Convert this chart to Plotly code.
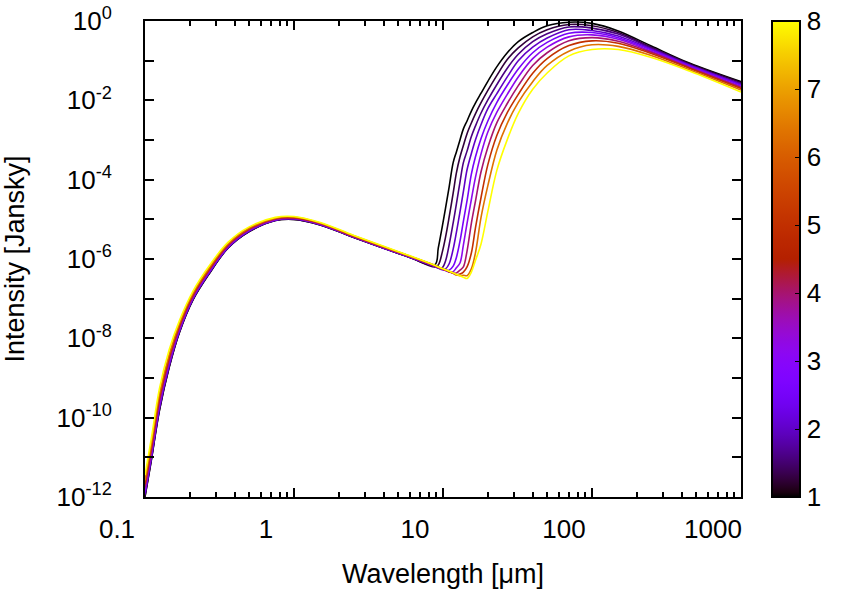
import math
import plotly.graph_objects as go

# wavelength grid [micron], shared by every curve
wavelength = [0.1, 0.11, 0.125, 0.145, 0.17, 0.21, 0.27, 0.36, 0.5, 0.75,
              1.0, 1.5, 2.5, 4.0, 6.0,
              8.8, 9.3, 9.9, 10.4, 11.0, 11.7, 12.3, 13.0, 13.7, 14.5,
              15.5, 16.5, 18, 20, 23, 27, 32, 40, 50, 70,
              100, 150, 250, 450, 1000]

# colour parameter of each model (colorbar value)
param = [1.0, 1.26, 1.59, 2.0, 2.52, 3.17, 4.0, 5.04, 6.35, 8.0]

# log10 of intensity [Jy]
log_i_1 = [-12.0, -11.10, -9.82, -8.75, -7.86, -7.03, -6.37, -5.73, -5.31, -5.03,
           -5.00, -5.14, -5.45, -5.73, -5.96,
           -6.15, -5.72, -5.17, -4.72, -4.18, -3.57, -3.30, -3.00, -2.72, -2.52,
           -2.27, -2.07, -1.82, -1.52, -1.15, -0.80, -0.52, -0.29, -0.12, -0.03,
           -0.06, -0.25, -0.63, -1.06, -1.53]
log_i_2 = [-11.98, -11.08, -9.80, -8.73, -7.85, -7.02, -6.36, -5.72, -5.31, -5.03,
           -5.00, -5.14, -5.45, -5.73, -5.96,
           -6.20, -6.15, -5.82, -5.45, -4.94, -4.34, -3.83, -3.43, -3.14, -2.84,
           -2.57, -2.34, -2.06, -1.75, -1.37, -0.97, -0.68, -0.40, -0.22, -0.09,
           -0.12, -0.29, -0.66, -1.08, -1.55]
log_i_3 = [-11.95, -11.05, -9.77, -8.71, -7.83, -7.01, -6.35, -5.72, -5.30, -5.02,
           -4.99, -5.13, -5.45, -5.73, -5.96,
           -6.19, -6.23, -6.22, -6.05, -5.64, -5.09, -4.61, -4.06, -3.57, -3.28,
           -2.91, -2.65, -2.32, -1.99, -1.60, -1.19, -0.84, -0.52, -0.32, -0.15,
           -0.18, -0.33, -0.68, -1.10, -1.58]
log_i_4 = [-11.92, -11.02, -9.74, -8.69, -7.82, -7.00, -6.34, -5.71, -5.29, -5.02,
           -4.99, -5.13, -5.44, -5.72, -5.95,
           -6.19, -6.23, -6.27, -6.25, -6.12, -5.75, -5.33, -4.81, -4.30, -3.75,
           -3.34, -3.00, -2.61, -2.21, -1.83, -1.41, -1.00, -0.66, -0.43, -0.22,
           -0.24, -0.38, -0.71, -1.11, -1.60]
log_i_5 = [-11.88, -10.98, -9.70, -8.65, -7.80, -6.98, -6.33, -5.70, -5.28, -5.01,
           -4.98, -5.13, -5.44, -5.72, -5.95,
           -6.18, -6.22, -6.26, -6.29, -6.28, -6.18, -5.96, -5.55, -5.05, -4.53,
           -3.86, -3.43, -2.96, -2.52, -2.05, -1.62, -1.21, -0.80, -0.54, -0.31,
           -0.29, -0.42, -0.73, -1.13, -1.62]
log_i_6 = [-11.83, -10.93, -9.65, -8.61, -7.77, -6.96, -6.31, -5.68, -5.27, -5.01,
           -4.98, -5.12, -5.43, -5.71, -5.95,
           -6.18, -6.22, -6.26, -6.29, -6.33, -6.32, -6.22, -6.10, -5.65, -5.10,
           -4.50, -3.95, -3.35, -2.80, -2.30, -1.85, -1.41, -0.95, -0.66, -0.40,
           -0.35, -0.46, -0.76, -1.15, -1.65]
log_i_7 = [-11.76, -10.86, -9.58, -8.56, -7.73, -6.94, -6.28, -5.67, -5.26, -5.00,
           -4.97, -5.11, -5.43, -5.71, -5.94,
           -6.17, -6.21, -6.25, -6.28, -6.32, -6.36, -6.35, -6.28, -6.20, -5.80,
           -5.10, -4.55, -3.80, -3.18, -2.56, -2.08, -1.63, -1.12, -0.80, -0.50,
           -0.42, -0.51, -0.79, -1.17, -1.67]
log_i_8 = [-11.68, -10.78, -9.50, -8.49, -7.69, -6.90, -6.26, -5.64, -5.24, -4.98,
           -4.96, -5.10, -5.42, -5.70, -5.93,
           -6.17, -6.21, -6.25, -6.28, -6.32, -6.36, -6.40, -6.38, -6.33, -6.20,
           -5.85, -5.22, -4.45, -3.62, -2.88, -2.31, -1.85, -1.32, -0.95, -0.62,
           -0.50, -0.56, -0.82, -1.19, -1.70]
log_i_9 = [-11.58, -10.68, -9.40, -8.41, -7.63, -6.86, -6.22, -5.62, -5.22, -4.97,
           -4.94, -5.09, -5.41, -5.69, -5.93,
           -6.16, -6.20, -6.24, -6.27, -6.31, -6.35, -6.39, -6.42, -6.41, -6.42,
           -6.25, -5.85, -4.95, -4.15, -3.25, -2.58, -2.05, -1.53, -1.12, -0.76,
           -0.60, -0.64, -0.87, -1.23, -1.74]
log_i_10 = [-11.45, -10.55, -9.27, -8.30, -7.56, -6.81, -6.17, -5.58, -5.19, -4.95,
            -4.93, -5.08, -5.40, -5.68, -5.92,
            -6.16, -6.20, -6.24, -6.27, -6.31, -6.35, -6.39, -6.42, -6.46, -6.49,
            -6.33, -6.04, -5.62, -4.80, -3.76, -2.99, -2.33, -1.72, -1.31, -0.88,
            -0.72, -0.72, -0.92, -1.26, -1.79]

curves = [log_i_1, log_i_2, log_i_3, log_i_4, log_i_5,
          log_i_6, log_i_7, log_i_8, log_i_9, log_i_10]

x_ticks = [0.1, 1, 10, 100, 1000]
x_labels = ["0.1", "1", "10", "100", "1000"]
y_label_exp = [0, 2, 4, 6, 8, 10, 12]
cb_ticks = [1, 2, 3, 4, 5, 6, 7, 8]

cb_min, cb_max = 1, 8


def gnuplot_color(v):
    # gnuplot default palette, rgbformulae 7,5,15
    g = (v - cb_min) / (cb_max - cb_min)
    r = math.sqrt(g)
    gr = g ** 3
    b = max(0.0, min(1.0, math.sin(2 * math.pi * g)))
    return "rgb(%d,%d,%d)" % (round(255 * r), round(255 * gr), round(255 * b))


colorscale = [[i / 100, gnuplot_color(cb_min + (cb_max - cb_min) * i / 100)]
              for i in range(101)]

fig = go.Figure()
for p, logi in zip(param, curves):
    fig.add_trace(go.Scatter(
        x=wavelength,
        y=[10 ** v for v in logi],
        mode="lines",
        line=dict(color=gnuplot_color(p), width=1.6, shape="spline", smoothing=1.0),
        showlegend=False,
    ))

# colorbar only
fig.add_trace(go.Scatter(
    x=[None], y=[None], mode="markers", showlegend=False, hoverinfo="skip",
    marker=dict(color=[cb_min], cmin=cb_min, cmax=cb_max, colorscale=colorscale,
                showscale=True,
                colorbar=dict(x=1.052, xanchor="left", y=0.5, yanchor="middle",
                              len=1, lenmode="fraction", thickness=28, xpad=0, ypad=0,
                              outlinewidth=2, outlinecolor="black",
                              tickvals=cb_ticks, tickprefix="\u00a0",
                              ticks="inside", ticklen=6, tickcolor="black",
                              ticklabeloverflow="allow",
                              tickfont=dict(size=26, color="black"))),
))

# empty trace so the minor-tick axis gets drawn
fig.add_trace(go.Scatter(x=[None], y=[None], xaxis="x2", showlegend=False,
                         hoverinfo="skip"))

# minor tick positions 2..9 of each decade
x_minor = [m * 10.0 ** d for d in range(-1, 3) for m in range(2, 10)]
y_minor = [10.0 ** -e for e in range(1, 12, 2)]

font = "Liberation Sans, Arial, Helvetica, sans-serif"
fig.update_layout(
    width=847, height=597,
    margin=dict(l=145, r=106, t=21, b=100, autoexpand=False),
    paper_bgcolor="white", plot_bgcolor="white",
    font=dict(family=font, size=26, color="black"),
    xaxis=dict(
        type="log", range=[-1, 3], automargin=False,
        showline=True, linecolor="black", linewidth=2, mirror="allticks",
        ticks="inside", ticklen=9, tickwidth=1.5, tickcolor="black",
        tickvals=x_ticks, ticktext=x_labels,
        ticklabelshift=-28, ticklabelstandoff=8, ticklabeloverflow="allow",
        showgrid=False, zeroline=False,
        title=dict(text="Wavelength [μm]", font=dict(size=27), standoff=21),
    ),
    xaxis2=dict(
        type="log", range=[-1, 3], overlaying="x", anchor="y", side="bottom",
        automargin=False, showline=False, mirror="ticks",
        ticks="inside", ticklen=5, tickwidth=1.5, tickcolor="black",
        tickvals=x_minor, showticklabels=False,
        showgrid=False, zeroline=False,
    ),
    yaxis=dict(
        type="log", range=[-12, 0], automargin=False,
        showline=True, linecolor="black", linewidth=2, mirror="allticks",
        ticks="inside", ticklen=9, tickwidth=1.5, tickcolor="black",
        tickvals=[10.0 ** -e for e in y_label_exp],
        ticktext=["10<sup>%s</sup>" % ("-%d" % e if e else "0") for e in y_label_exp],
        minor=dict(tickmode="array", tickvals=y_minor, ticks="inside", ticklen=9,
                   tickwidth=1.5, tickcolor="black", showgrid=False),
        ticklabelstandoff=26, ticklabeloverflow="allow",
        showgrid=False, zeroline=False,
        title=dict(text="Intensity [Jansky]", font=dict(size=27), standoff=28),
    ),
)

# the page body has an 8 px margin by default; drop it so the figure sits at 0,0
fig.write_html("out.html", config={"displayModeBar": False},
               post_script="document.body.style.margin = '0';")
